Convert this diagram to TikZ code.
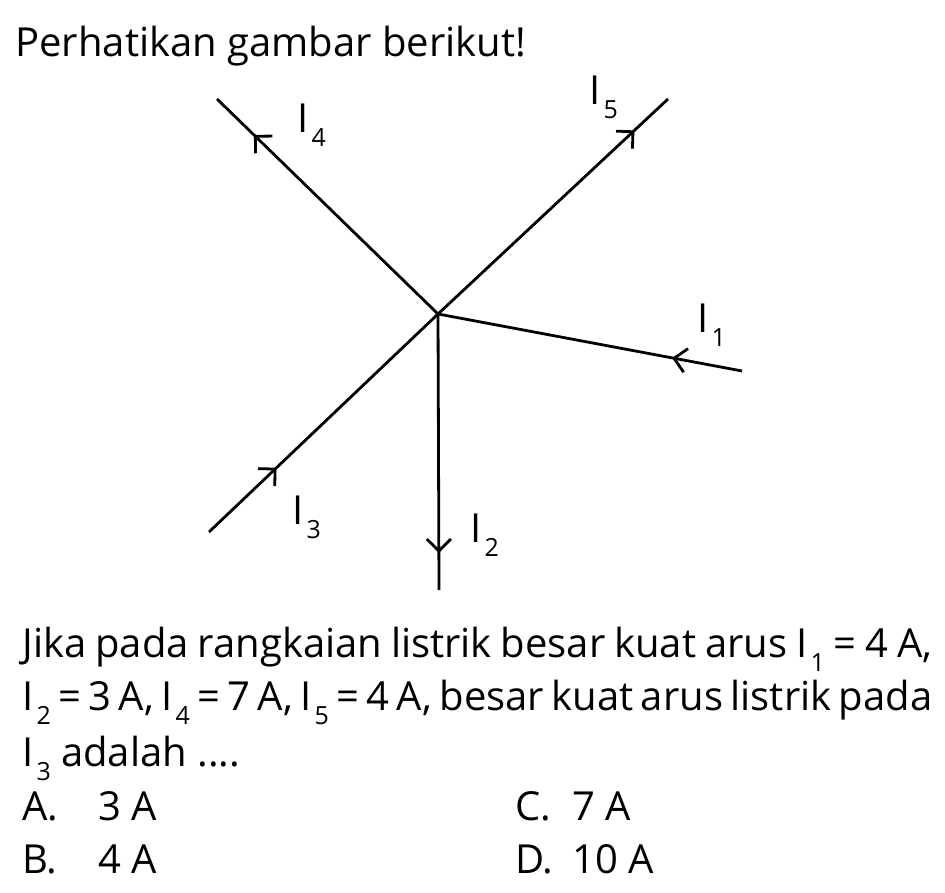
\documentclass[tikz,border=0pt]{standalone}
\usepackage{fontspec}
\setmainfont{Open Sans}
\usetikzlibrary{arrows.meta, decorations.markings}
\tikzset{wire/.style={draw, line width=1.4pt}}
\tikzset{flow/.style={postaction={decorate}, decoration={markings, mark=at position #1 with {\arrow{Straight Barb[length=6pt, width=12pt]}}}}}
\tikzset{txt/.style={anchor=base west, inner sep=0pt, font=\fontsize{20}{24}\selectfont}}
\newcommand\cur[1]{I\kern1.5pt\raisebox{-7pt}{\fontsize{12.5}{12.5}\selectfont #1}}
\newcommand\fullline[1]{\hbox to 455pt{\spaceskip=0.26em plus 0.3em minus 0.16em #1}}

\begin{document}
\begin{tikzpicture}[x=0.5pt, y=-0.5pt]
	\useasboundingbox (0,0) rectangle (945,892);

	\node[txt] (head) at (15,57) {Perhatikan gambar berikut!};

	% junction and branch ends
	\coordinate (J) at (438,314);
	\coordinate (e1) at (742,371);
	\coordinate (e2) at (439,590);
	\coordinate (e3) at (209,532);
	\coordinate (e4) at (217,99);
	\coordinate (e5) at (668,99);

	\draw[wire, flow=0.23] (e1) -- (J);
	\draw[wire, flow=0.866] (J) -- (e2);
	\draw[wire, flow=0.295] (e3) -- (J);
	\draw[wire, flow=0.833] (J) -- (e4);
	\draw[wire, flow=0.854] (J) -- (e5);

	\node[txt] (l1) at (697,333) {\cur{1}};
	\node[txt] (l2) at (470,542) {\cur{2}};
	\node[txt] (l3) at (292,524) {\cur{3}};
	\node[txt] (l4) at (297,133) {\cur{4}};
	\node[txt] (l5) at (589,105) {\cur{5}};

	% question
	\node[txt] (q1) at (22,657) {\fullline{Jika pada rangkaian listrik besar kuat arus \cur{1} = 4 A,}};
	\node[txt] (q2) at (22,710) {\fullline{\cur{2} = 3 A, \cur{4} = 7 A, \cur{5} = 4 A, besar kuat arus listrik pada}};
	\node[txt] (q3) at (22,766) {\cur{3} adalah ....};

	\node[txt] (oa) at (22,820) {A.};
	\node[txt] (va) at (98,820) {3 A};
	\node[txt] (oc) at (515,820) {C.};
	\node[txt] (vc) at (572,820) {7 A};
	\node[txt] (ob) at (22,873) {B.};
	\node[txt] (vb) at (98,873) {4 A};
	\node[txt] (od) at (515,873) {D.};
	\node[txt] (vd) at (572,873) {10 A};
\end{tikzpicture}
\end{document}
